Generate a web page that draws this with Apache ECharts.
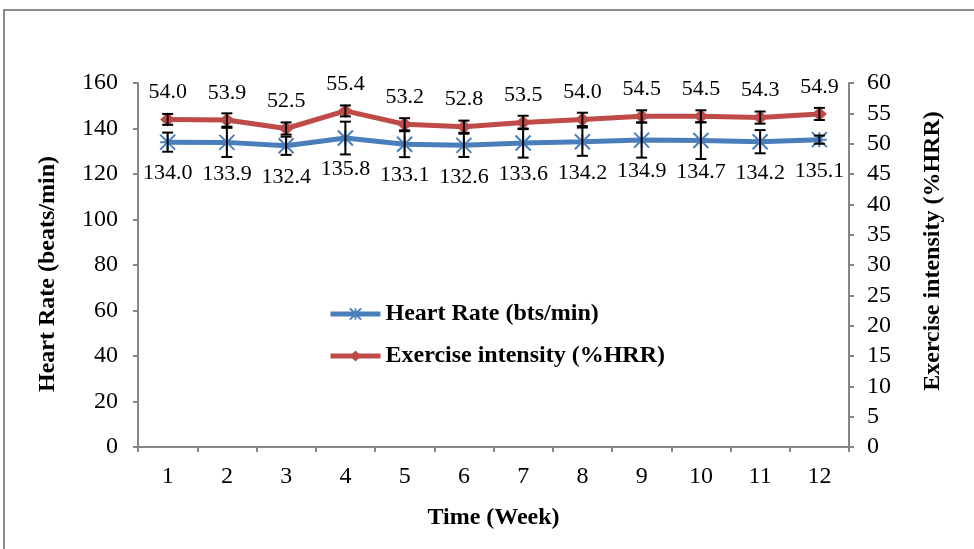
<!DOCTYPE html>
<html><head><meta charset="utf-8">
<script src="https://cdn.jsdelivr.net/npm/echarts@6/dist/echarts.min.js"></script>
<style>html,body{margin:0;padding:0;background:#fff}#c{width:974px;height:549px}</style>
</head><body><div id="c"></div>
<script>
const weeks = ['1','2','3','4','5','6','7','8','9','10','11','12'];
const heartRate = [134.0,133.9,132.4,135.8,133.1,132.6,133.6,134.2,134.9,134.7,134.2,135.1];
const heartRateSD = [4.2,6.4,4.0,7.2,5.7,5.1,6.4,6.2,7.7,8.1,5.1,1.8];
const intensity = [54.0,53.9,52.5,55.4,53.2,52.8,53.5,54.0,54.5,54.5,54.3,54.9];
const intensitySD = [0.9,1.1,1.0,0.9,1.0,1.0,1.1,1.1,1.0,1.0,1.0,1.0];

const FONT = '"Liberation Serif", "Times New Roman", serif';
const AX = '#868686';
const BLUE = '#4A7EBB';
const RED = '#BE4B48';

function errSeries(vals, sds, yIdx) {
  return {
    type: 'custom', yAxisIndex: yIdx, z: 5, silent: true,
    data: vals.map((v, i) => [i, v - sds[i], v + sds[i]]),
    renderItem: function (params, api) {
      const lo = api.coord([api.value(0), api.value(1)]);
      const hi = api.coord([api.value(0), api.value(2)]);
      const w = 5.5;
      const st = { stroke: '#000', lineWidth: 2 };
      return { type: 'group', children: [
        { type: 'line', shape: { x1: lo[0], y1: lo[1], x2: hi[0], y2: hi[1] }, style: st },
        { type: 'line', shape: { x1: lo[0]-w, y1: lo[1], x2: lo[0]+w, y2: lo[1] }, style: st },
        { type: 'line', shape: { x1: hi[0]-w, y1: hi[1], x2: hi[0]+w, y2: hi[1] }, style: st }
      ]};
    }
  };
}

const chart = echarts.init(document.getElementById('c'));
chart.setOption({
  animation: false,
  textStyle: { fontFamily: FONT },
  grid: { left: 138, right: 125, top: 83, bottom: 102 },
  graphic: [{ type: 'rect', shape: { x: 4, y: 10, width: 1000, height: 600 }, style: { fill: 'none', stroke: '#8a8a8a', lineWidth: 2 }, silent: true }],
  legend: {
    orient: 'vertical', left: 328, top: 302, padding: 0,
    itemWidth: 50, itemHeight: 14, itemGap: 18,
    lineStyle: { width: 5 },
    textStyle: { fontFamily: FONT, fontSize: 24, fontWeight: 'bold', color: '#000' },
    data: ['Heart Rate (bts/min)', 'Exercise intensity (%HRR)']
  },
  xAxis: {
    type: 'category', data: weeks, boundaryGap: true,
    name: 'Time (Week)', nameLocation: 'middle', nameGap: 59,
    nameTextStyle: { fontFamily: FONT, fontSize: 24, fontWeight: 'bold', color: '#000' },
    axisLine: { lineStyle: { color: AX, width: 2 } },
    axisTick: { show: true, length: 5, lineStyle: { color: AX, width: 2 } },
    axisLabel: { fontFamily: FONT, fontSize: 24, color: '#000', margin: 18 }
  },
  yAxis: [{
    type: 'value', min: 0, max: 160, interval: 20, position: 'left',
    name: 'Heart Rate (beats/min)', nameLocation: 'middle', nameGap: 78, nameRotate: 90,
    nameTextStyle: { fontFamily: FONT, fontSize: 24, fontWeight: 'bold', color: '#000', padding: [0, 18, 0, 0] },
    axisLine: { show: true, lineStyle: { color: AX, width: 2 } },
    axisTick: { show: true, length: 5, lineStyle: { color: AX, width: 2 } },
    axisLabel: { fontFamily: FONT, fontSize: 24, color: '#000', margin: 20 },
    splitLine: { show: false }
  }, {
    type: 'value', min: 0, max: 60, interval: 5, position: 'right',
    name: 'Exercise intensity (%HRR)', nameLocation: 'middle', nameGap: 72, nameRotate: 90,
    nameTextStyle: { fontFamily: FONT, fontSize: 24, fontWeight: 'bold', color: '#000', padding: [0, 0, 0, 28] },
    axisLine: { show: true, lineStyle: { color: AX, width: 2 } },
    axisTick: { show: true, length: 5, lineStyle: { color: AX, width: 2 } },
    axisLabel: { fontFamily: FONT, fontSize: 24, color: '#000', margin: 18 },
    splitLine: { show: false }
  }],
  series: [
    {
      name: 'Heart Rate (bts/min)', type: 'line', yAxisIndex: 0, data: heartRate,
      symbol: 'path://M0,0L10,10M10,0L0,10M5,0L5,10M0,5L10,5', symbolSize: 15,
      lineStyle: { color: BLUE, width: 5 },
      itemStyle: { color: BLUE, borderColor: BLUE, borderWidth: 2 },
      label: { show: true, position: 'bottom', distance: 12, fontFamily: FONT, fontSize: 22, color: '#000',
        formatter: p => p.value.toFixed(1) },
      z: 3
    },
    {
      name: 'Exercise intensity (%HRR)', type: 'line', yAxisIndex: 1, data: intensity,
      symbol: 'diamond', symbolSize: [15, 14],
      lineStyle: { color: RED, width: 5 },
      itemStyle: { color: RED, borderColor: RED, borderWidth: 0 },
      label: { show: true, position: 'top', distance: 9, fontFamily: FONT, fontSize: 22, color: '#000',
        formatter: p => p.value.toFixed(1) },
      z: 3
    },
    errSeries(heartRate, heartRateSD, 0),
    errSeries(intensity, intensitySD, 1)
  ]
});
</script></body></html>
